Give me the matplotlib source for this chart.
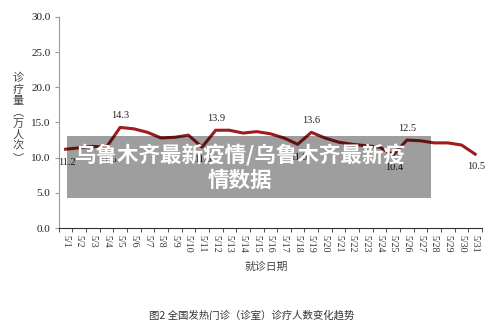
import numpy as np
import matplotlib
matplotlib.use("Agg")
import matplotlib.pyplot as plt
from matplotlib.patches import Rectangle

plt.rcParams["font.family"] = ["Noto Sans CJK SC", "DejaVu Sans"]

dates = ["5/%d" % d for d in range(1, 32)]
visits = [11.2, 11.4, 11.6, 11.5, 14.3, 14.1, 13.6, 12.8, 12.9, 13.2,
          11.5, 13.9, 13.9, 13.5, 13.7, 13.4, 12.8, 11.9, 13.6, 12.8,
          12.2, 11.9, 11.7, 11.5, 10.4, 12.5, 12.4, 12.1, 12.1, 11.8, 10.5]
# which points carry a number, and whether it sits above or below the line
labels_above = [4, 11, 18, 25]
labels_below = [0, 3, 10, 17, 24, 30]

serif = "Liberation Serif"
line_red = "#9e1c1c"

fig = plt.figure(figsize=(5, 3.35), dpi=100)
ax = fig.add_axes([0.1174, 0.3194, 0.8466, 0.6299])

x = np.arange(len(dates))
ax.plot(x, visits, color=line_red, lw=2.2, solid_joinstyle="round")

for i in labels_above:
    ax.annotate("%.1f" % visits[i], (x[i], visits[i]), xytext=(0, 5),
                textcoords="offset points", ha="center", va="bottom",
                fontsize=7.5, family=serif, color="#222222")
for i in labels_below:
    ax.annotate("%.1f" % visits[i], (x[i], visits[i]), xytext=(1, -6),
                textcoords="offset points", ha="center", va="top",
                fontsize=7.5, family=serif, color="#222222")

ax.set_xlim(-0.5, 30.5)
ax.set_ylim(0, 30)
ax.spines["top"].set_visible(False)
ax.spines["right"].set_visible(False)
ax.spines["left"].set_color("#999999")
ax.spines["bottom"].set_color("#333333")

ax.set_yticks(np.arange(0, 31, 5))
ax.set_yticklabels(["%.1f" % v for v in np.arange(0, 31, 5)],
                   family=serif, fontsize=8, color="#222222")
ax.tick_params(axis="y", length=3, color="#999999", pad=3)

ax.set_xticks(x)
ax.set_xticklabels(dates, rotation=270, family=serif, fontsize=7.2,
                   color="#333333")
ax.tick_params(axis="x", which="major", length=0, pad=5)
ax.set_xticks(np.arange(-0.5, 31, 1), minor=True)
ax.tick_params(axis="x", which="minor", length=3, color="#333333")

fig.text(0.037, 0.648, "诊\n疗\n量\n︵\n万\n人\n次\n︶", ha="center",
         va="center", fontsize=8, linespacing=1.15, color="#444444")
fig.text(0.533, 0.203, "就诊日期", ha="center", va="center", fontsize=7.8,
         color="#444444")
fig.text(0.503, 0.057, "图2 全国发热门诊（诊室）诊疗人数变化趋势",
         ha="center", va="center", fontsize=7.5, color="#333333")

# watermark box over the plot
fig.add_artist(Rectangle((0.1334, 0.408), 0.728, 0.186,
                         transform=fig.transFigure, facecolor="black",
                         alpha=0.38, edgecolor="none", zorder=10))
fig.text(0.48, 0.537, "乌鲁木齐最新疫情/乌鲁木齐最新疫", ha="center",
         va="center", fontsize=15.5, weight="bold", color="white", zorder=11)
fig.text(0.48, 0.463, "情数据", ha="center", va="center", fontsize=15.5,
         weight="bold", color="white", zorder=11)

fig.savefig("out.png", dpi=100)
